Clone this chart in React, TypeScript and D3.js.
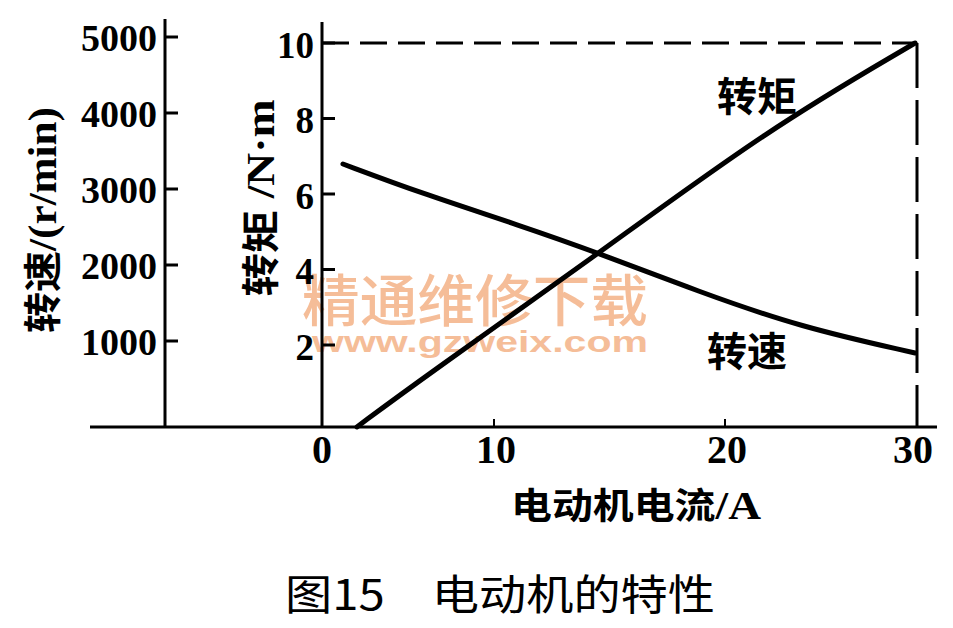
import React from "react";
import * as d3 from "d3";

// ---- data ----
const currentTicks = [0, 10, 20, 30];
const speedTicks = [1000, 2000, 3000, 4000, 5000];
const torqueTicks = [2, 4, 6, 8, 10];

const torqueCurrent = [2.03, 5.7, 14.5, 22.19, 29.9];
const torqueValue = [-0.17, 1.07, 4.41, 7.7, 10.0];

const speedCurrent = [1.22, 5.7, 11.13, 14.46, 18.9, 23.9, 29.9];
const speedValue = [3329, 2950, 2520, 2165, 1645, 1184, 842];

const xTitleCjk = "电动机电流";
const xTitleLatin = "/A";
const speedTitleCjk = "转速";
const speedTitleLatin = "/(r/min)";
const torqueTitleCjk = "转矩";
const torqueTitleLatin = " /N·m";
const torqueLabel = "转矩";
const speedLabel = "转速";
const caption = "图15　电动机的特性";
const watermark1 = "精通维修下载";
const watermark2 = "www.gzweix.com";

export default function App() {
  const W = 953;
  const H = 628;
  const axisY = 427;
  const speedAxisX = 165;
  const torqueAxisX = 322;

  // hand-drawn, slightly non-uniform current axis
  const x = d3.scaleLinear().domain(currentTicks).range([322, 494, 725, 917]);
  const yT = d3.scaleLinear().domain([0, 10]).range([420.5, 43]);
  const yS = d3.scaleLinear().domain([0, 5000]).range([417, 37]);

  const torquePts: [number, number][] = torqueCurrent.map((c, i) => [c, torqueValue[i]]);
  const speedPts: [number, number][] = speedCurrent.map((c, i) => [c, speedValue[i]]);

  const torqueLine = d3
    .line<[number, number]>()
    .x((d) => x(d[0]))
    .y((d) => yT(d[1]))
    .curve(d3.curveBasis);
  const speedLine = d3
    .line<[number, number]>()
    .x((d) => x(d[0]))
    .y((d) => yS(d[1]))
    .curve(d3.curveBasis);

  const serif = "'Liberation Serif', 'DejaVu Serif', serif";
  const cjk = "'Noto Sans CJK SC', 'Liberation Serif', sans-serif";
  const xMax = x(30);
  const yTop = yT(10);

  return (
    <svg
      width={W}
      height={H}
      viewBox={`0 0 ${W} ${H}`}
      style={{ position: "absolute", left: 0, top: 0, background: "#fff" }}
    >
      <rect x={0} y={0} width={W} height={H} fill="#fff" />

      {/* watermark */}
      <text
        x={475}
        y={321}
        textAnchor="middle"
        fontFamily={cjk}
        fontWeight={500}
        fontSize={56}
        fill="#f5bd98"
        textLength={346}
        lengthAdjust="spacingAndGlyphs"
      >
        {watermark1}
      </text>
      <text
        x={480}
        y={352}
        textAnchor="middle"
        fontFamily="'Liberation Sans', Arial, sans-serif"
        fontWeight={700}
        fontSize={29}
        fill="#f5bd98"
        textLength={336}
        lengthAdjust="spacingAndGlyphs"
      >
        {watermark2}
      </text>

      {/* axes */}
      <line x1={90} x2={937} y1={axisY} y2={axisY} stroke="#000" strokeWidth={3} />
      <line x1={speedAxisX} x2={speedAxisX} y1={19} y2={axisY} stroke="#000" strokeWidth={3} />
      <line x1={torqueAxisX} x2={torqueAxisX} y1={22} y2={axisY} stroke="#000" strokeWidth={3} />

      {/* speed ticks */}
      {speedTicks.map((t) => (
        <g key={"s" + t}>
          <line x1={speedAxisX} x2={speedAxisX + 13} y1={yS(t)} y2={yS(t)} stroke="#000" strokeWidth={3} />
          <text
            x={157}
            y={yS(t)}
            dy="0.38em"
            textAnchor="end"
            fontFamily={serif}
            fontWeight={700}
            fontSize={38}
          >
            {t}
          </text>
        </g>
      ))}

      {/* torque ticks */}
      {torqueTicks.map((t) => (
        <g key={"t" + t}>
          <line x1={torqueAxisX} x2={torqueAxisX + 13} y1={yT(t)} y2={yT(t)} stroke="#000" strokeWidth={3} />
          <text
            x={314}
            y={yT(t)}
            dy="0.4em"
            textAnchor="end"
            fontFamily={serif}
            fontWeight={700}
            fontSize={37}
          >
            {t}
          </text>
        </g>
      ))}

      {/* current ticks */}
      {currentTicks.map((t) => (
        <g key={"c" + t}>
          {t > 0 && (
            <line x1={x(t)} x2={x(t)} y1={axisY} y2={axisY - (t === 30 ? 12 : 8)} stroke="#000" strokeWidth={2} />
          )}
          <text
            x={x(t) + (t === 0 ? 0 : t === 30 ? -4 : 2)}
            y={463}
            textAnchor="middle"
            fontFamily={serif}
            fontWeight={700}
            fontSize={40}
          >
            {t}
          </text>
        </g>
      ))}

      {/* dashed boundary */}
      <line
        x1={torqueAxisX}
        x2={xMax}
        y1={yTop}
        y2={yTop}
        stroke="#000"
        strokeWidth={3}
        strokeDasharray="27 11"
      />
      <line
        x1={xMax}
        x2={xMax}
        y1={yTop}
        y2={axisY}
        stroke="#000"
        strokeWidth={3}
        strokeDasharray="45 12"
      />

      {/* curves */}
      <path d={torqueLine(torquePts) || ""} fill="none" stroke="#000" strokeWidth={5} strokeLinecap="round" />
      <path d={speedLine(speedPts) || ""} fill="none" stroke="#000" strokeWidth={5} strokeLinecap="round" />

      {/* curve labels */}
      <text x={757} y={111} textAnchor="middle" fontFamily={cjk} fontWeight={700} fontSize={40}>
        {torqueLabel}
      </text>
      <text x={747} y={366} textAnchor="middle" fontFamily={cjk} fontWeight={700} fontSize={40}>
        {speedLabel}
      </text>

      {/* axis titles */}
      <text
        x={636}
        y={519}
        textAnchor="middle"
        fontWeight={700}
        fontSize={36}
        textLength={250}
        lengthAdjust="spacingAndGlyphs"
      >
        <tspan fontFamily={cjk}>{xTitleCjk}</tspan>
        <tspan fontFamily={serif} fontSize={40}>{xTitleLatin}</tspan>
      </text>
      <text
        transform={`translate(56, 220) rotate(-90)`}
        textAnchor="middle"
        fontWeight={700}
        fontSize={38}
        textLength={226}
        lengthAdjust="spacingAndGlyphs"
      >
        <tspan fontFamily={cjk}>{speedTitleCjk}</tspan>
        <tspan fontFamily={serif} fontSize={40}>{speedTitleLatin}</tspan>
      </text>
      <text
        transform={`translate(274, 198) rotate(-90)`}
        textAnchor="middle"
        fontWeight={700}
        fontSize={38}
        textLength={197}
        lengthAdjust="spacingAndGlyphs"
      >
        <tspan fontFamily={cjk}>{torqueTitleCjk}</tspan>
        <tspan fontFamily={serif} fontSize={40}>{torqueTitleLatin}</tspan>
      </text>

      {/* caption */}
      <text
        x={500}
        y={610}
        textAnchor="middle"
        fontFamily={cjk}
        fontWeight={400}
        fontSize={42}
        textLength={430}
        lengthAdjust="spacingAndGlyphs"
      >
        {caption}
      </text>
    </svg>
  );
}
